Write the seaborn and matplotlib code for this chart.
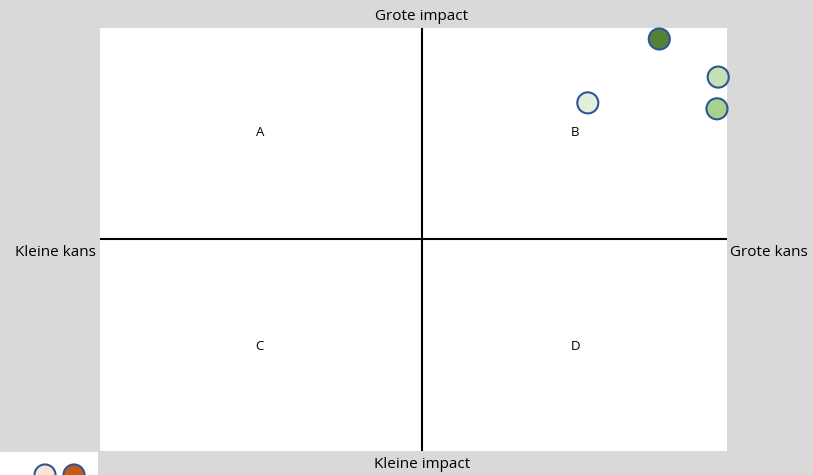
import matplotlib
matplotlib.use("Agg")
import matplotlib.pyplot as plt
import seaborn as sns
import pandas as pd

sns.set_theme(style="white")
plt.rcParams['font.family'] = ['Open Sans', 'DejaVu Sans']
plt.rcParams['text.color'] = 'black'

# Data (risk matrix positions, 0..10 scale)
risk_ids = ["r1", "r2", "r3", "r4"]
kans = [8.92, 9.86, 9.84, 7.78]
impact = [9.74, 8.84, 8.09, 8.23]
fill_colors = ["#548235", "#c5e0b4", "#a9d18e", "#e2f0d9"]

legend_ids = ["l1", "l2"]
legend_x = [4.5, 7.4]
legend_y = [0.0, 0.0]
legend_colors = ["#fbe5d6", "#c55a11"]

quadrant_labels = ["A", "B", "C", "D"]
quadrant_x = [2.55, 7.58, 2.55, 7.58]
quadrant_y = [7.52, 7.52, 2.48, 2.48]

center_x = 5.135
center_y = 5.0

W, H = 813, 475
fig = plt.figure(figsize=(W / 100, H / 100), dpi=100)
fig.patch.set_facecolor("#d9d9d9")

ax = fig.add_axes([100 / W, (H - 451) / H, 627 / W, 423 / H])
ax.set_facecolor("white")

df = pd.DataFrame({"id": risk_ids, "kans": kans, "impact": impact})
sns.scatterplot(data=df, x="kans", y="impact", hue="id", palette=fill_colors,
                s=230, edgecolor="#2f5597", linewidth=1.5, legend=False,
                ax=ax, clip_on=False, zorder=3)

ax.axvline(center_x, color="black", lw=1.5, zorder=2)
ax.axhline(center_y, color="black", lw=1.5, zorder=2)

for lab, x, y in zip(quadrant_labels, quadrant_x, quadrant_y):
    ax.text(x, y, lab, ha="center", va="center", fontsize=9.5, color="black")

ax.set_xlim(0, 10)
ax.set_ylim(0, 10)
ax.set_xticks([])
ax.set_yticks([])
ax.set_xlabel("")
ax.set_ylabel("")
for sp in ax.spines.values():
    sp.set_visible(False)

fs = 11
fig.text(422 / W, 1 - 16 / H, "Grote impact", ha="center", va="center", fontsize=fs, color="black")
fig.text(422 / W, 1 - 464 / H, "Kleine impact", ha="center", va="center", fontsize=fs, color="black")
fig.text(96 / W, 1 - 252 / H, "Kleine kans", ha="right", va="center", fontsize=fs, color="black")
fig.text(730 / W, 1 - 252 / H, "Grote kans", ha="left", va="center", fontsize=fs, color="black")

# partially visible legend box bottom-left
lax = fig.add_axes([0, 0, 98 / W, 23 / H])
lax.set_facecolor("white")
ldf = pd.DataFrame({"id": legend_ids, "x": legend_x, "y": legend_y})
sns.scatterplot(data=ldf, x="x", y="y", hue="id", palette=legend_colors,
                s=230, edgecolor="#2f5597", linewidth=1.5, legend=False, ax=lax)
lax.set_xlim(0, 9.8)
lax.set_ylim(0, 2.3)
lax.set_xticks([])
lax.set_yticks([])
lax.set_xlabel("")
lax.set_ylabel("")
for sp in lax.spines.values():
    sp.set_visible(False)

fig.savefig("out.png", dpi=100, facecolor=fig.get_facecolor())
